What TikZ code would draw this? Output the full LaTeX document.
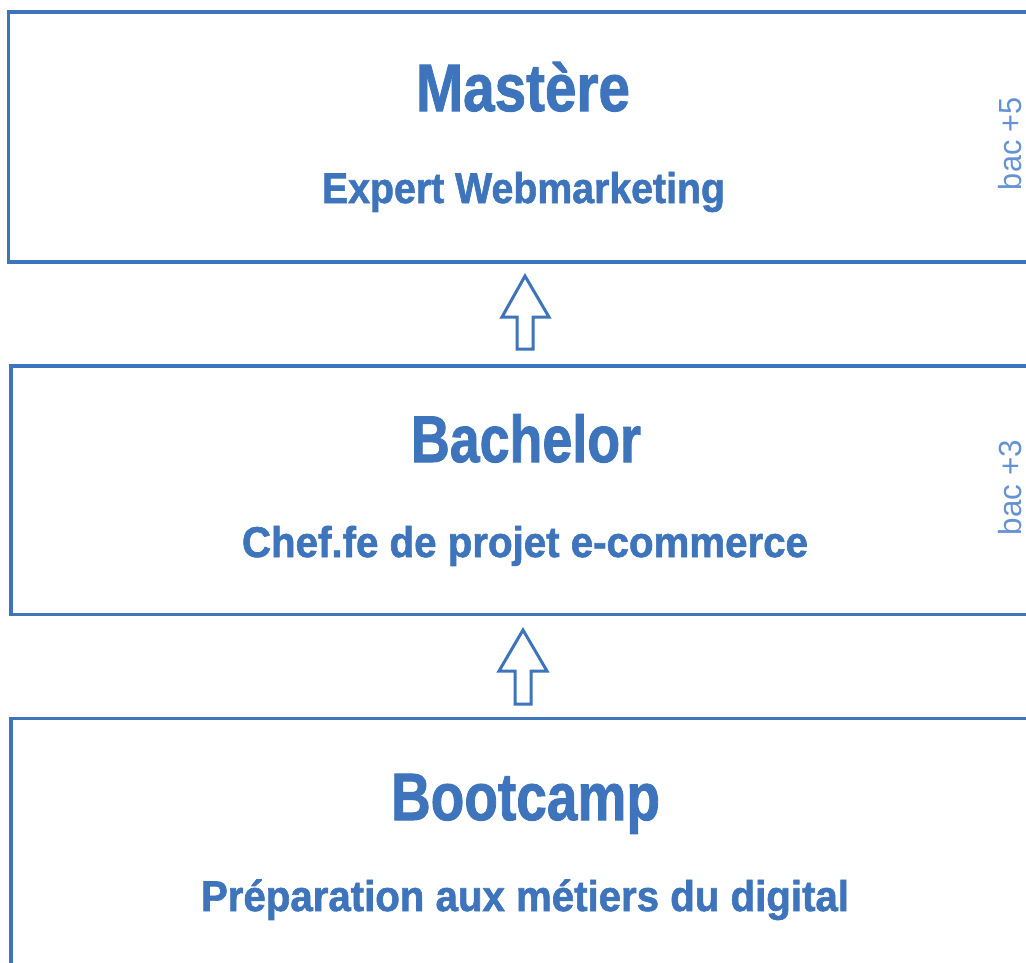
\documentclass[tikz,border=0pt]{standalone}
\usepackage{fontspec}
\setmainfont{Liberation Sans}[BoldFeatures={FakeBold=1.5}]
\usepackage{graphicx}
\definecolor{mainblue}{RGB}{61,116,187}
\definecolor{lightblue}{RGB}{100,146,210}
\newcommand{\fitw}[3]{\resizebox{#1}{\height}{\fontsize{#2}{#2}\selectfont #3}}
\begin{document}
\begin{tikzpicture}[x=1pt,y=-1pt,
  levelbox/.style={draw=mainblue,line width=3.4pt,inner sep=0pt},
  titletext/.style={anchor=base,inner sep=0pt,text=mainblue,font=\bfseries},
  subtext/.style={anchor=base,inner sep=0pt,text=mainblue,font=\bfseries},
  bactext/.style={anchor=base,rotate=90,inner sep=0pt,text=lightblue},
  blockarrow/.style={draw=mainblue,line width=3pt,line join=miter,fill=white}]
\useasboundingbox (0,0) rectangle (1026,962);
\clip (0,0) rectangle (1026,962);
% boxes
\draw[levelbox] (8.5,12) rectangle (1040,262);
\draw[levelbox] (11,366) rectangle (1040,614.5);
\draw[levelbox] (11,718.5) rectangle (1040,975);
% titles
\node[titletext] (t1) at (523,111) {\fitw{214pt}{67pt}{Mastère}};
\node[subtext] (s1) at (523.5,203) {\fitw{403pt}{43pt}{Expert Webmarketing}};
\node[titletext] (t2) at (526,462) {\fitw{230pt}{66pt}{Bachelor}};
\node[subtext] (s2) at (525,557) {\fitw{566pt}{43pt}{Chef.fe de projet e-commerce}};
\node[titletext] (t3) at (525.5,820) {\fitw{269pt}{67pt}{Bootcamp}};
\node[subtext] (s3) at (525,911) {\fitw{648pt}{43pt}{Préparation aux métiers du digital}};
% side labels
\node[bactext] (b5) at (1021,143.5) {\fitw{93pt}{32pt}{bac +5}};
\node[bactext] (b3) at (1021,487.5) {\fitw{95pt}{32pt}{bac +3}};
% block arrows
\draw[blockarrow] (525,276) -- (549,317) -- (533,317) -- (533,349) -- (517,349) -- (517,317) -- (502,317) -- cycle;
\draw[blockarrow] (523,630) -- (547,671) -- (531,671) -- (531,704) -- (515,704) -- (515,671) -- (499,671) -- cycle;
\end{tikzpicture}
\end{document}
